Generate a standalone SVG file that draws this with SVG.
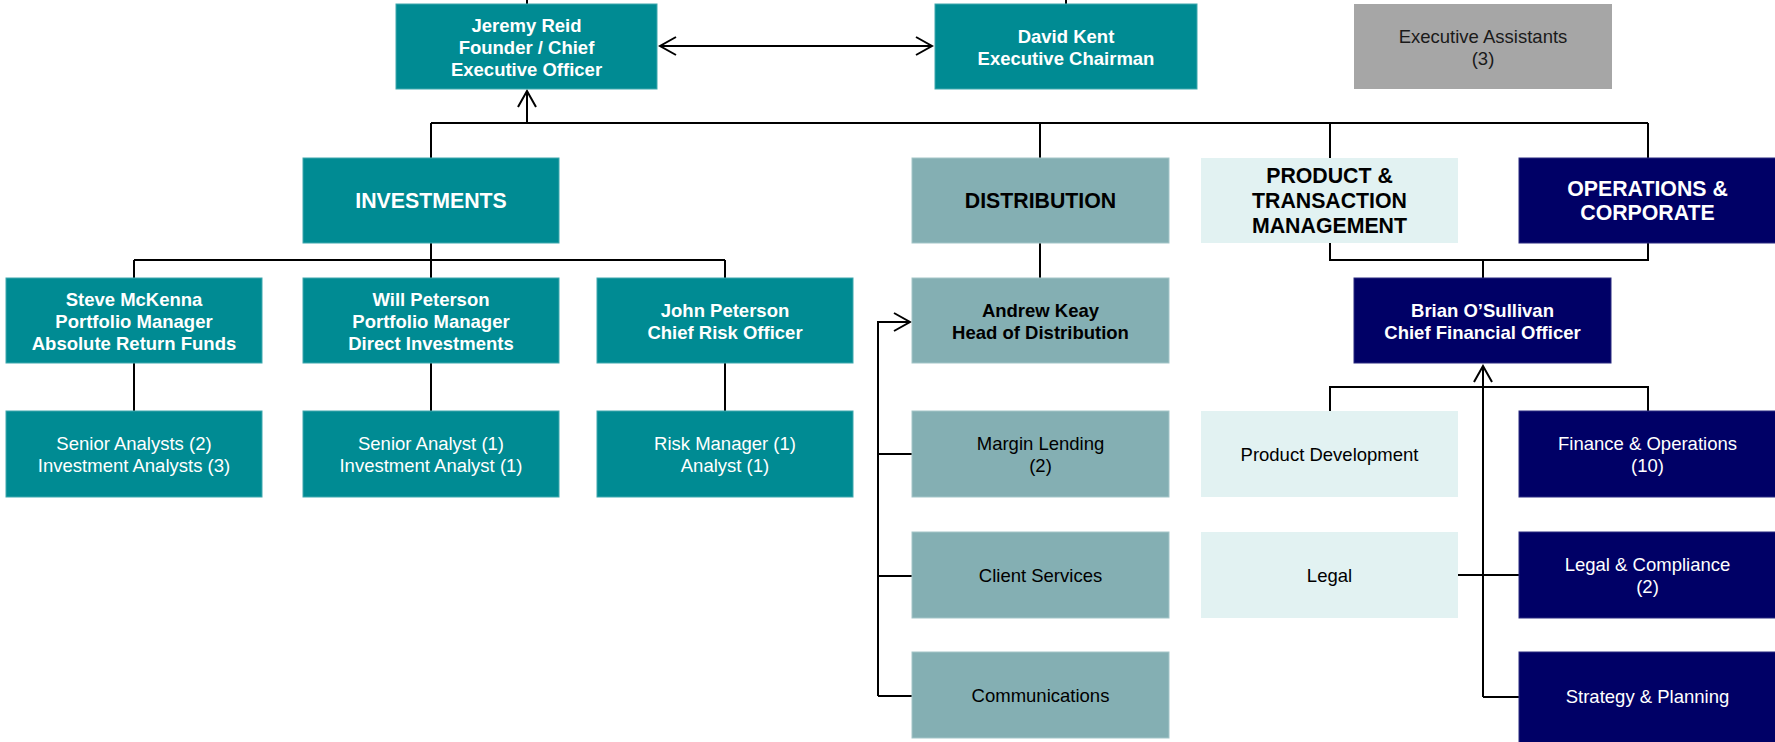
<svg xmlns="http://www.w3.org/2000/svg" width="1775" height="742" viewBox="0 0 1775 742">
  <style>
    text { font-family: "Liberation Sans", Arial, sans-serif; text-anchor: middle; }
    .name { font-size: 18.5px; font-weight: bold; }
    .body { font-size: 18.5px; }
    .head { font-size: 21.3px; font-weight: bold; }
    .teal rect { fill: #008b93; stroke: #3fa8ae; stroke-width: 1; }
    .teal text { fill: #ffffff; }
    .dist rect { fill: #84afb3; stroke: #a3c5c8; stroke-width: 1; }
    .dist text { fill: #000000; }
    .prod rect { fill: #e2f2f2; }
    .prod text { fill: #000000; }
    .ops rect { fill: #000066; stroke: #2a2a80; stroke-width: 1; }
    .ops text { fill: #ffffff; }
    .grey rect { fill: #a6a6a6; }
    .grey text { fill: #1a1a1a; }
    .conn path { fill: none; stroke: #000000; stroke-width: 2; }
  </style>
  <defs>
    <marker id="open-arrow" viewBox="0 0 20 20" refX="18" refY="10" markerWidth="20" markerHeight="20" markerUnits="userSpaceOnUse" orient="auto-start-reverse">
      <path d="M2,1 L18,10 L2,19" fill="none" stroke="#000000" stroke-width="2"/>
    </marker>
  </defs>

  <!-- connectors -->
  <g id="connectors" class="conn">
    <path d="M527,0 V4"/>
    <path d="M1066,0 V4"/>
    <path d="M660,46 H932" marker-start="url(#open-arrow)" marker-end="url(#open-arrow)"/>
    <path d="M431,123 H1648"/>
    <path d="M527,123 V91" marker-end="url(#open-arrow)"/>
    <path d="M431,123 V158"/>
    <path d="M1040,123 V158"/>
    <path d="M1330,123 V158"/>
    <path d="M1648,123 V158"/>
    <!-- investments -->
    <path d="M431,243 V260"/>
    <path d="M134,260 H725"/>
    <path d="M134,260 V278"/>
    <path d="M431,260 V278"/>
    <path d="M725,260 V278"/>
    <path d="M134,363 V411"/>
    <path d="M431,363 V411"/>
    <path d="M725,363 V411"/>
    <!-- distribution -->
    <path d="M1040,243 V278"/>
    <path d="M878,696 V322 H910" marker-end="url(#open-arrow)"/>
    <path d="M878,454 H912"/>
    <path d="M878,576 H912"/>
    <path d="M878,696 H912"/>
    <!-- product & operations -->
    <path d="M1330,243 V260 H1648 V243"/>
    <path d="M1483,260 V278"/>
    <path d="M1483,697 V366" marker-end="url(#open-arrow)"/>
    <path d="M1483,697 H1519"/>
    <path d="M1458,575 H1519"/>
    <path d="M1330,411 V387 H1648 V411"/>
  </g>

  <!-- executive row -->
  <g id="jeremy-reid" class="teal">
    <rect x="396" y="4" width="261" height="85"/>
    <text class="name" x="526.5" y="31.5">Jeremy Reid</text>
    <text class="name" x="526.5" y="53.5">Founder / Chief</text>
    <text class="name" x="526.5" y="75.5">Executive Officer</text>
  </g>
  <g id="david-kent" class="teal">
    <rect x="935" y="4" width="262" height="85"/>
    <text class="name" x="1066" y="42.5">David Kent</text>
    <text class="name" x="1066" y="64.5">Executive Chairman</text>
  </g>
  <g id="executive-assistants" class="grey">
    <rect x="1354" y="4" width="258" height="85"/>
    <text class="body" x="1483" y="42.5">Executive Assistants</text>
    <text class="body" x="1483" y="64.5">(3)</text>
  </g>

  <!-- division headers -->
  <g id="investments" class="teal">
    <rect x="303" y="158" width="256" height="85"/>
    <text class="head" x="431" y="208">INVESTMENTS</text>
  </g>
  <g id="distribution" class="dist">
    <rect x="912" y="158" width="257" height="85"/>
    <text class="head" x="1040.5" y="208">DISTRIBUTION</text>
  </g>
  <g id="product-transaction" class="prod">
    <rect x="1201" y="158" width="257" height="85"/>
    <text class="head" x="1329.5" y="183">PRODUCT &amp;</text>
    <text class="head" x="1329.5" y="208">TRANSACTION</text>
    <text class="head" x="1329.5" y="233">MANAGEMENT</text>
  </g>
  <g id="operations-corporate" class="ops">
    <rect x="1519" y="158" width="257" height="85"/>
    <text class="head" x="1647.5" y="196">OPERATIONS &amp;</text>
    <text class="head" x="1647.5" y="220">CORPORATE</text>
  </g>

  <!-- heads -->
  <g id="steve-mckenna" class="teal">
    <rect x="6" y="278" width="256" height="85"/>
    <text class="name" x="134" y="305.5">Steve McKenna</text>
    <text class="name" x="134" y="327.5">Portfolio Manager</text>
    <text class="name" x="134" y="349.5">Absolute Return Funds</text>
  </g>
  <g id="will-peterson" class="teal">
    <rect x="303" y="278" width="256" height="85"/>
    <text class="name" x="431" y="305.5">Will Peterson</text>
    <text class="name" x="431" y="327.5">Portfolio Manager</text>
    <text class="name" x="431" y="349.5">Direct Investments</text>
  </g>
  <g id="john-peterson" class="teal">
    <rect x="597" y="278" width="256" height="85"/>
    <text class="name" x="725" y="316.5">John Peterson</text>
    <text class="name" x="725" y="338.5">Chief Risk Officer</text>
  </g>
  <g id="andrew-keay" class="dist">
    <rect x="912" y="278" width="257" height="85"/>
    <text class="name" x="1040.5" y="316.5">Andrew Keay</text>
    <text class="name" x="1040.5" y="338.5">Head of Distribution</text>
  </g>
  <g id="brian-osullivan" class="ops">
    <rect x="1354" y="278" width="257" height="85"/>
    <text class="name" x="1482.5" y="316.5">Brian O’Sullivan</text>
    <text class="name" x="1482.5" y="338.5">Chief Financial Officer</text>
  </g>

  <!-- teams -->
  <g id="senior-analysts" class="teal">
    <rect x="6" y="411" width="256" height="86"/>
    <text class="body" x="134" y="450">Senior Analysts (2)</text>
    <text class="body" x="134" y="472">Investment Analysts (3)</text>
  </g>
  <g id="senior-analyst" class="teal">
    <rect x="303" y="411" width="256" height="86"/>
    <text class="body" x="431" y="450">Senior Analyst (1)</text>
    <text class="body" x="431" y="472">Investment Analyst (1)</text>
  </g>
  <g id="risk-manager" class="teal">
    <rect x="597" y="411" width="256" height="86"/>
    <text class="body" x="725" y="450">Risk Manager (1)</text>
    <text class="body" x="725" y="472">Analyst (1)</text>
  </g>
  <g id="margin-lending" class="dist">
    <rect x="912" y="411" width="257" height="86"/>
    <text class="body" x="1040.5" y="450">Margin Lending</text>
    <text class="body" x="1040.5" y="472">(2)</text>
  </g>
  <g id="client-services" class="dist">
    <rect x="912" y="532" width="257" height="86"/>
    <text class="body" x="1040.5" y="582">Client Services</text>
  </g>
  <g id="communications" class="dist">
    <rect x="912" y="652" width="257" height="86"/>
    <text class="body" x="1040.5" y="702">Communications</text>
  </g>
  <g id="product-development" class="prod">
    <rect x="1201" y="411" width="257" height="86"/>
    <text class="body" x="1329.5" y="461">Product Development</text>
  </g>
  <g id="legal" class="prod">
    <rect x="1201" y="532" width="257" height="86"/>
    <text class="body" x="1329.5" y="582">Legal</text>
  </g>
  <g id="finance-operations" class="ops">
    <rect x="1519" y="411" width="257" height="86"/>
    <text class="body" x="1647.5" y="450">Finance &amp; Operations</text>
    <text class="body" x="1647.5" y="472">(10)</text>
  </g>
  <g id="legal-compliance" class="ops">
    <rect x="1519" y="532" width="257" height="86"/>
    <text class="body" x="1647.5" y="571">Legal &amp; Compliance</text>
    <text class="body" x="1647.5" y="593">(2)</text>
  </g>
  <g id="strategy-planning" class="ops">
    <rect x="1519" y="652" width="257" height="91"/>
    <text class="body" x="1647.5" y="703">Strategy &amp; Planning</text>
  </g>
</svg>
